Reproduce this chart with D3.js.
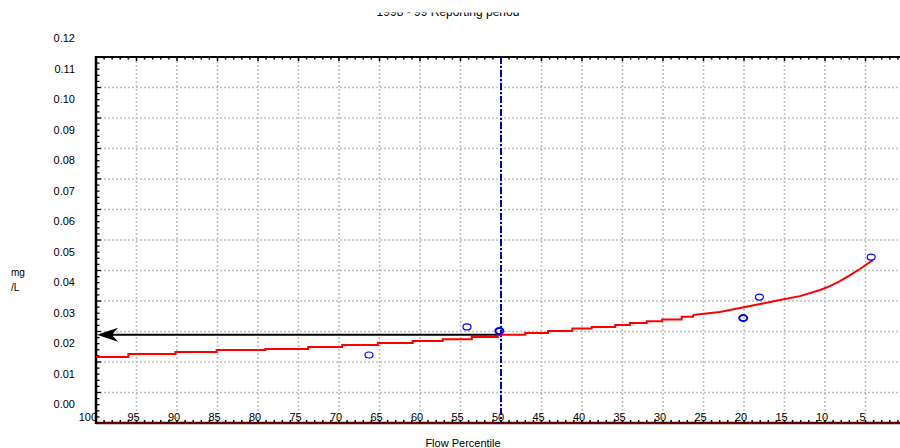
<!DOCTYPE html>
<html>
<head>
<meta charset="utf-8">
<script src="https://cdn.jsdelivr.net/npm/d3@7"></script>
<style>
    body { margin: 0; background: #fff; }
    svg { display: block; font-family: 'Liberation Sans', Arial, sans-serif; }
</style>
</head>
<body>
<svg id="chart" width="900" height="448"></svg>
<script>
// load duration curve (step values)
const curvePct = [100, 96.0, 90.2, 85.1, 79.1, 73.8, 69.6, 65.2, 60.9, 57.2, 53.6, 50.4, 47.0, 44.2, 41.2,
    38.8, 35.9, 34.1, 32.0, 30.1, 27.7, 26.3, 23.0, 20.5, 18.0, 15.6, 13.1, 10.6, 9.4, 8.1, 6.9, 5.7, 4.1];
const curveConc = [0.0116, 0.0126, 0.0133, 0.0139, 0.0143, 0.0149, 0.0156, 0.0162, 0.0169, 0.0175, 0.0182,
    0.0189, 0.0195, 0.0202, 0.0210, 0.0215, 0.0221, 0.0228, 0.0234, 0.0239, 0.0248, 0.0254, 0.0264, 0.0277,
    0.0290, 0.0303, 0.0316, 0.0336, 0.0349, 0.0366, 0.0385, 0.0405, 0.0434];
// from this index on the curve is drawn as a smooth run, not steps
const tailStart = 21;

// observed samples
const obsPct = [66.3, 54.2, 50.2, 20.1, 18.1, 4.3];
const obsConc = [0.0123, 0.0215, 0.0202, 0.0244, 0.0313, 0.0444];

const medianPct = 50;
const medianConc = 0.0189;

const yTickValues = [0, 0.01, 0.02, 0.03, 0.04, 0.05, 0.06, 0.07, 0.08, 0.09, 0.10, 0.11, 0.12];
const xTickValues = [100, 95, 90, 85, 80, 75, 70, 65, 60, 55, 50, 45, 40, 35, 30, 25, 20, 15, 10, 5];

const titleText = '1998 - 99 Reporting period';
const xTitle = 'Flow Percentile';

const svg = d3.select('#chart');

const x = d3.scaleLinear().domain([100, 0]).range([96, 906]);
const y = d3.scaleLinear().domain([-0.01, 0.11]).range([423, 57]);

// grid
const grid = svg.append('g').attr('class', 'grid')
    .attr('stroke', '#c0c0c0')
    .attr('stroke-width', 1.6)
    .attr('stroke-dasharray', '2,2');

grid.selectAll('.hgrid')
    .data(yTickValues.filter(v => v <= 0.10))
    .enter().append('line')
    .attr('x1', x(100)).attr('x2', 900)
    .attr('y1', d => y(d)).attr('y2', d => y(d));

grid.selectAll('.vgrid')
    .data(xTickValues.slice(1))
    .enter().append('line')
    .attr('x1', d => x(d)).attr('x2', d => x(d))
    .attr('y1', y(0.11)).attr('y2', y(-0.01));

// minor ticks on the frame
const minorX = d3.range(99, 0, -1);
svg.append('g').selectAll('line')
    .data(minorX)
    .enter().append('line')
    .attr('x1', d => x(d)).attr('x2', d => x(d))
    .attr('y1', y(0.11)).attr('y2', d => y(0.11) + (d % 5 === 0 ? 4 : 2.5))
    .attr('stroke', '#000').attr('stroke-width', 1.5);

svg.append('g').selectAll('line')
    .data(minorX)
    .enter().append('line')
    .attr('x1', d => x(d)).attr('x2', d => x(d))
    .attr('y1', y(-0.01)).attr('y2', y(-0.01) - 3)
    .attr('stroke', '#000').attr('stroke-width', 1.5);

svg.append('g').selectAll('line')
    .data(d3.range(-0.008, 0.1101, 0.002))
    .enter().append('line')
    .attr('x1', x(100)).attr('x2', (d, i) => x(100) + ((i + 1) % 5 === 0 ? 5 : 3.5))
    .attr('y1', d => y(d)).attr('y2', d => y(d))
    .attr('stroke', '#000').attr('stroke-width', 1.3);

// frame
svg.append('line')
    .attr('x1', x(100)).attr('x2', 900)
    .attr('y1', y(0.11)).attr('y2', y(0.11))
    .attr('stroke', '#000').attr('stroke-width', 2);

svg.append('line')
    .attr('x1', x(100)).attr('x2', 900)
    .attr('y1', y(-0.01)).attr('y2', y(-0.01))
    .attr('stroke', '#5a0000').attr('stroke-width', 2.5);

svg.append('line')
    .attr('x1', x(100)).attr('x2', x(100))
    .attr('y1', y(0.11) - 1).attr('y2', y(-0.01) + 1)
    .attr('stroke', '#000').attr('stroke-width', 2.5);

// y labels (drawn a little below their gridline, as in the source)
svg.append('g').selectAll('text')
    .data(yTickValues)
    .enter().append('text')
    .attr('x', 75)
    .attr('y', d => y(d) + 12)
    .attr('dy', '0.35em')
    .attr('text-anchor', 'end')
    .attr('font-size', 11)
    .attr('fill', '#000')
    .text(d => d3.format('.2f')(d));

// x labels
svg.append('g').selectAll('text')
    .data(xTickValues)
    .enter().append('text')
    .attr('x', d => d === 100 ? x(d) + 1 : x(d) - 3)
    .attr('y', 421)
    .attr('text-anchor', d => d === 100 ? 'end' : 'middle')
    .attr('font-size', 11)
    .attr('fill', '#000')
    .text(d => d);

// median lines
svg.append('line')
    .attr('x1', x(medianPct)).attr('x2', x(medianPct))
    .attr('y1', y(0.11)).attr('y2', y(-0.01))
    .attr('stroke', '#0000a8')
    .attr('stroke-width', 2)
    .attr('stroke-dasharray', '7,2,2,2');

const my = y(medianConc);
svg.append('line')
    .attr('x1', x(medianPct)).attr('x2', x(100) + 12)
    .attr('y1', my).attr('y2', my)
    .attr('stroke', '#000').attr('stroke-width', 2);

const ax = x(100) + 1;
svg.append('path')
    .attr('d', `M${ax},${my} L${ax + 21},${my - 7} L${ax + 15},${my} L${ax + 21},${my + 7} Z`)
    .attr('fill', '#000');

// curve: stepped body, smooth tail
const points = curvePct.map((p, i) => [p, curveConc[i]]);

const stepLine = d3.line()
    .x(d => x(d[0]))
    .y(d => y(d[1]))
    .curve(d3.curveStepAfter);

const tailLine = d3.line()
    .x(d => x(d[0]))
    .y(d => y(d[1]));

svg.append('path')
    .datum(points.slice(0, tailStart + 1))
    .attr('d', stepLine)
    .attr('fill', 'none')
    .attr('stroke', '#ff0000')
    .attr('stroke-width', 2);

svg.append('path')
    .datum(points.slice(tailStart))
    .attr('d', tailLine)
    .attr('fill', 'none')
    .attr('stroke', '#ff0000')
    .attr('stroke-width', 2);

// samples
svg.append('g').selectAll('ellipse')
    .data(obsPct.map((p, i) => [p, obsConc[i]]))
    .enter().append('ellipse')
    .attr('cx', d => x(d[0]))
    .attr('cy', d => y(d[1]))
    .attr('rx', 4)
    .attr('ry', 3)
    .attr('fill', 'none')
    .attr('stroke', '#0000ff')
    .attr('stroke-width', (d, i) => i === 2 || i === 3 ? 2 : 1.2);

// titles
svg.append('clipPath').attr('id', 'titleClip')
    .append('rect').attr('x', 0).attr('y', 12.5).attr('width', 900).attr('height', 20);

svg.append('text')
    .attr('clip-path', 'url(#titleClip)')
    .attr('x', 448).attr('y', 16)
    .attr('text-anchor', 'middle')
    .attr('font-size', 12)
    .text(titleText);

svg.append('text')
    .attr('x', 463).attr('y', 447)
    .attr('text-anchor', 'middle')
    .attr('font-size', 11)
    .text(xTitle);

svg.append('text')
    .attr('x', 11).attr('y', 276)
    .attr('font-size', 10)
    .text('mg');

svg.append('text')
    .attr('x', 11).attr('y', 291)
    .attr('font-size', 10)
    .text('/L');
</script>
</body>
</html>
